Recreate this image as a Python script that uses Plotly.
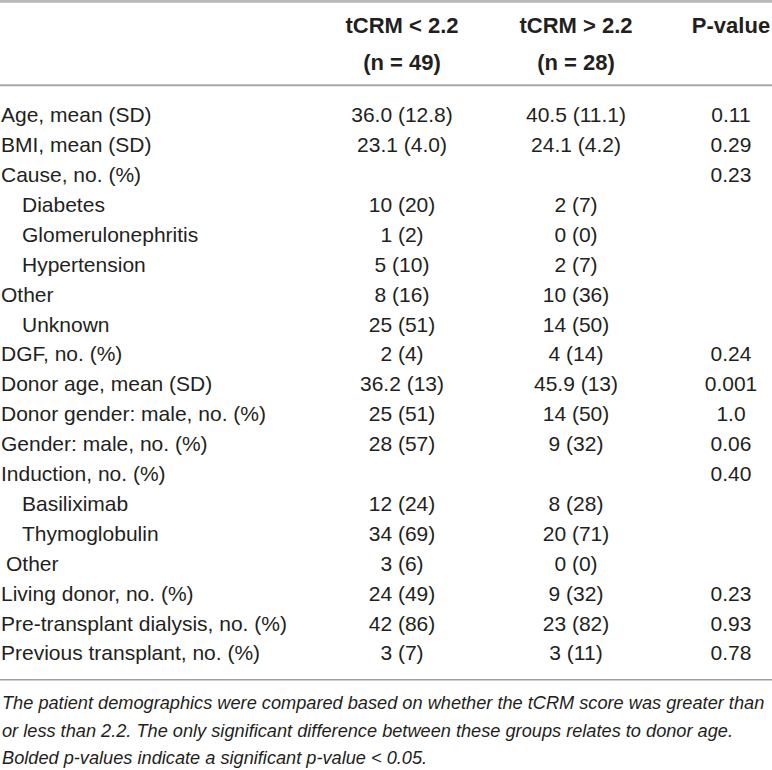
import plotly.graph_objects as go

# table contents
labels = ["Age, mean (SD)", "BMI, mean (SD)", "Cause, no. (%)", "Diabetes",
          "Glomerulonephritis", "Hypertension", "Other", "Unknown",
          "DGF, no. (%)", "Donor age, mean (SD)", "Donor gender: male, no. (%)",
          "Gender: male, no. (%)", "Induction, no. (%)", "Basiliximab",
          "Thymoglobulin", "Other", "Living donor, no. (%)",
          "Pre-transplant dialysis, no. (%)", "Previous transplant, no. (%)"]
indent = [0, 0, 0, 2, 2, 2, 0, 2, 0, 0, 0, 0, 0, 2, 2, 1, 0, 0, 0]

low_group = ["36.0 (12.8)", "23.1 (4.0)", "", "10 (20)", "1 (2)", "5 (10)",
             "8 (16)", "25 (51)", "2 (4)", "36.2 (13)", "25 (51)", "28 (57)",
             "", "12 (24)", "34 (69)", "3 (6)", "24 (49)", "42 (86)", "3 (7)"]
high_group = ["40.5 (11.1)", "24.1 (4.2)", "", "2 (7)", "0 (0)", "2 (7)",
              "10 (36)", "14 (50)", "4 (14)", "45.9 (13)", "14 (50)", "9 (32)",
              "", "8 (28)", "20 (71)", "0 (0)", "9 (32)", "23 (82)", "3 (11)"]
p_values = ["0.11", "0.29", "0.23", "", "", "", "", "", "0.24", "0.001", "1.0",
            "0.06", "0.40", "", "", "", "0.23", "0.93", "0.78"]

headers = ["tCRM < 2.2", "tCRM > 2.2", "P-value"]
header_n = ["(n = 49)", "(n = 28)", ""]

footnote_lines = [
    "The patient demographics were compared based on whether the tCRM score was greater than",
    "or less than 2.2. The only significant difference between these groups relates to donor age.",
    "Bolded p-values indicate a significant p-value < 0.05.",
]

ink = "#231f20"
font = "Liberation Sans, Arial, Helvetica, sans-serif"
col_x = [402, 576, 731]
rows = list(range(len(labels)))
indent_px = {0: 1, 1: 6, 2: 22}

fig = go.Figure()

fig.add_trace(go.Scatter(
    x=[indent_px[i] for i in indent], y=rows, text=labels, mode="text",
    textposition="middle right", textfont=dict(size=21, color=ink, family=font),
    hoverinfo="skip"))

for cx, col in zip(col_x, [low_group, high_group, p_values]):
    fig.add_trace(go.Scatter(
        x=[cx] * len(col), y=rows, text=col, mode="text",
        textposition="middle center", textfont=dict(size=21, color=ink, family=font),
        hoverinfo="skip"))

fig.add_trace(go.Scatter(
    x=col_x, y=[-3.0] * 3, text=["<b>%s</b>" % h for h in headers], mode="text",
    textposition="middle center", textfont=dict(size=22, color=ink, family=font),
    hoverinfo="skip"))
fig.add_trace(go.Scatter(
    x=col_x, y=[-1.74] * 3, text=["<b>%s</b>" % h for h in header_n], mode="text",
    textposition="middle center", textfont=dict(size=22, color=ink, family=font),
    hoverinfo="skip"))

# rules
for yy, w, c in [(-3.87, 3, "#b8b8b8"), (-1.06, 2, "#a8a8a8"), (18.82, 1.5, "#a0a0a0")]:
    fig.add_shape(type="line", x0=0, x1=772, y0=yy, y1=yy, xref="x", yref="y",
                  line=dict(color=c, width=w))

for k, line in enumerate(footnote_lines):
    fig.add_annotation(x=0, y=19.6 + 0.92 * k, xref="x", yref="y", xanchor="left",
                       yanchor="middle", text="<i>%s</i>" % line, showarrow=False,
                       align="left", font=dict(size=18.2, color=ink, family=font))

fig.update_layout(
    width=772, height=770, margin=dict(l=0, r=0, t=0, b=0),
    paper_bgcolor="white", plot_bgcolor="white", showlegend=False,
    xaxis=dict(range=[0, 772], visible=False, fixedrange=True),
    yaxis=dict(range=[21.84, -3.913], visible=False, fixedrange=True),
)

fig.write_html("out.html", config={"displayModeBar": False},
               post_script="document.body.style.margin='0';")
